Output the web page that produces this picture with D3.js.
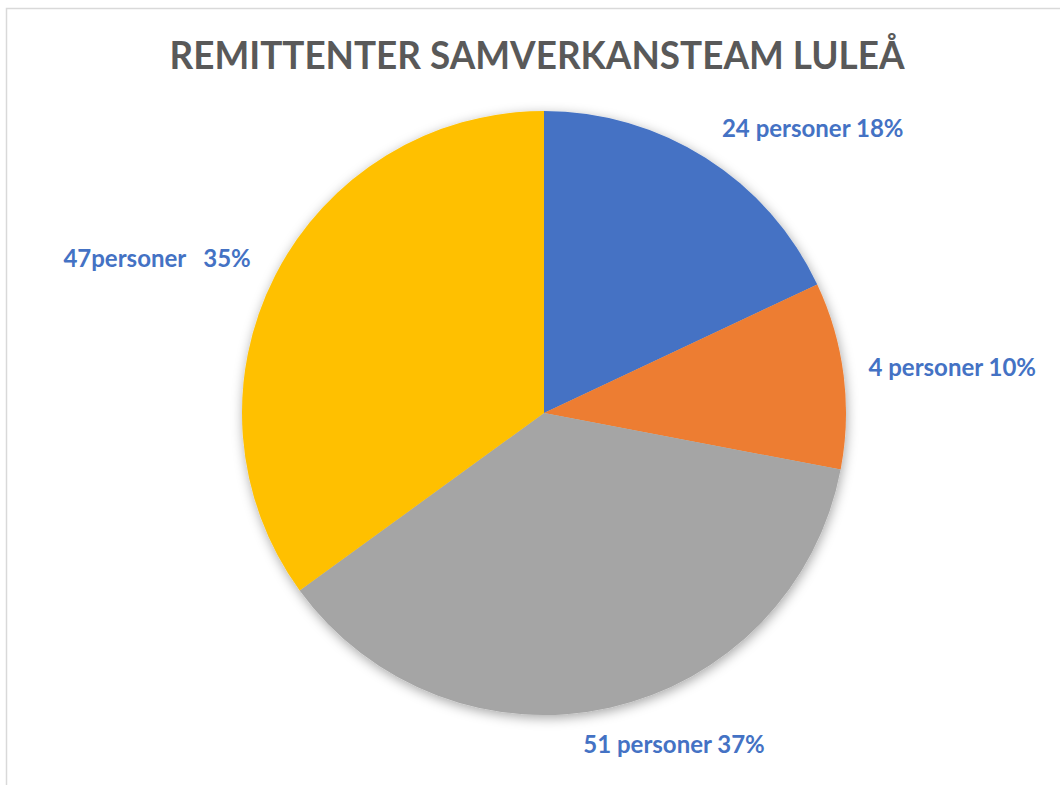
<!DOCTYPE html>
<html>
<head>
<meta charset="utf-8">
<script src="https://cdn.jsdelivr.net/npm/d3@7"></script>
<style>
  body { margin: 0; background: #fff; }
  svg { display: block; }
</style>
</head>
<body>
<div id="chart"></div>
<script>
// data
var title = 'REMITTENTER SAMVERKANSTEAM LULEÅ';
var categories = ['A', 'B', 'C', 'D'];
var percents = [18, 10, 37, 35];
var labels = ['24 personer 18%', '4 personer 10%', '51 personer 37%', '47personer\u00a0\u00a0 35%'];
var colors = ['#4472C4', '#ED7D31', '#A5A5A5', '#FFC000'];

// where Excel left each label: angle (deg from top, clockwise) and distance as fraction of radius
var labelAngle = [43.4, 83.7, 158.6, 291.8];
var labelDist = [1.295, 1.36, 1.18, 1.38];

var width = 1060, height = 785;
var cx = 544, cy = 413, radius = 302;

var svg = d3.select('#chart').append('svg')
    .attr('width', width)
    .attr('height', height);

// chart frame (cut off at right and bottom in the original)
svg.append('rect')
    .attr('x', 6.5)
    .attr('y', 8.5)
    .attr('width', width + 20)
    .attr('height', height + 20)
    .attr('fill', 'white')
    .attr('stroke', '#d9d9d9')
    .attr('stroke-width', 1.5);

var defs = svg.append('defs');
var shadow = defs.append('filter')
    .attr('id', 'shadow')
    .attr('x', '-20%').attr('y', '-20%')
    .attr('width', '140%').attr('height', '140%');
shadow.append('feDropShadow')
    .attr('dx', 1)
    .attr('dy', 3)
    .attr('stdDeviation', 6)
    .attr('flood-color', '#000')
    .attr('flood-opacity', 0.35);

svg.append('text')
    .attr('x', 537)
    .attr('y', 69)
    .attr('text-anchor', 'middle')
    .attr('font-family', 'Lato, sans-serif')
    .attr('font-weight', 'bold')
    .attr('font-size', 38)
    .attr('fill', '#595959')
    .attr('textLength', 735)
    .attr('lengthAdjust', 'spacingAndGlyphs')
    .text(title);

var data = categories.map(function(c, i) {
  return {name: c, value: percents[i], label: labels[i], color: colors[i], i: i};
});

var pie = d3.pie()
    .sort(null)
    .value(function(d) { return d.value; });

var arc = d3.arc()
    .innerRadius(0)
    .outerRadius(radius);

var g = svg.append('g')
    .attr('transform', 'translate(' + cx + ',' + cy + ')');

g.append('g')
    .attr('filter', 'url(#shadow)')
  .selectAll('path')
    .data(pie(data))
  .enter().append('path')
    .attr('d', arc)
    .attr('fill', function(d) { return d.data.color; });

g.selectAll('.label')
    .data(data)
  .enter().append('text')
    .attr('class', 'label')
    .attr('x', function(d) { return Math.sin(labelAngle[d.i] * Math.PI / 180) * radius * labelDist[d.i]; })
    .attr('y', function(d) { return -Math.cos(labelAngle[d.i] * Math.PI / 180) * radius * labelDist[d.i]; })
    .attr('dy', '0.35em')
    .attr('text-anchor', 'middle')
    .attr('font-family', 'Lato, sans-serif')
    .attr('font-weight', 'bold')
    .attr('font-size', 24)
    .attr('fill', '#4472C4')
    .style('white-space', 'pre')
    .text(function(d) { return d.label; });
</script>
</body>
</html>
